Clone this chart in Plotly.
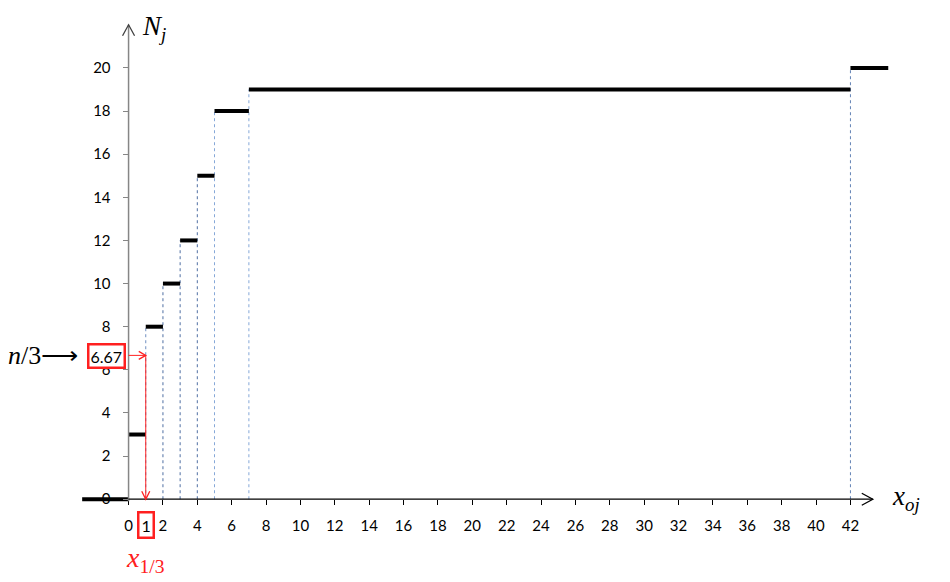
import plotly.graph_objects as go

# ---- data ----
step_x = [0, 1, 2, 3, 4, 5, 7, 42]          # x_oj where N_j jumps
N_j = [3, 8, 10, 12, 15, 18, 19, 20]        # cumulative frequencies
x_left, x_right = -2.7, 44.2                # extent of the outer steps
y_ticks = list(range(0, 21, 2))
x_ticks = list(range(0, 43, 2))
n_third = 6.67
x_13 = 1
dash_colors = ["#6f8fc0", "#4f6fa3", "#4f6fa3", "#4f6fa3", "#86a8d8", "#86a8d8", "#6282b5"]

# ---- layout geometry ----
W, H = 950, 582
OFF = 8  # page body offset
L, R, T, B = 77 - OFF, 48 + OFF, 14 - OFF, 72 + OFF
XR = [-3, 45]
YR = [-0.5, 22.5]
pxx = (W - L - R) / (XR[1] - XR[0])
pxy = (H - T - B) / (YR[1] - YR[0])

def dx(p):
    return p / pxx

def dy(p):
    return p / pxy

fig = go.Figure()

# dashed verticals
for i, (xv, nv) in enumerate(zip(step_x[1:], N_j[1:])):
    fig.add_trace(go.Scatter(x=[xv, xv], y=[0, nv], mode="lines",
                             line=dict(color=dash_colors[i], width=1, dash="3px,3px"),
                             hoverinfo="skip", showlegend=False))

# step segments
starts = [x_left] + step_x
ends = step_x + [x_right]
vals = [0] + N_j
sx, sy = [], []
for a, b, v in zip(starts, ends, vals):
    sx += [a, b, None]
    sy += [v, v, None]
fig.add_trace(go.Scatter(x=sx, y=sy, mode="lines", line=dict(color="black", width=4),
                         hoverinfo="skip", showlegend=False))

shapes = []
# axes lines
shapes.append(dict(type="line", xref="x", yref="y", x0=0, x1=0, y0=-dy(2), y1=22.0,
                   line=dict(color="#868686", width=1.5), layer="above"))
shapes.append(dict(type="line", xref="x", yref="y", x0=0, x1=43.3, y0=0, y1=0,
                   line=dict(color="black", width=1.3), layer="above"))

def vhead(xt, yt, direction, color, size=8, spread=5):
    # open V arrowhead with tip at (xt, yt)
    if direction == "up":
        p = f"M {xt-dx(spread)},{yt-dy(size)} L {xt},{yt} L {xt+dx(spread)},{yt-dy(size)}"
    elif direction == "down":
        p = f"M {xt-dx(spread)},{yt+dy(size)} L {xt},{yt} L {xt+dx(spread)},{yt+dy(size)}"
    else:  # right
        p = f"M {xt-dx(size)},{yt+dy(spread)} L {xt},{yt} L {xt-dx(size)},{yt-dy(spread)}"
    return dict(type="path", xref="x", yref="y", path=p, line=dict(color=color, width=1.3),
                layer="above")

shapes.append(vhead(0, 22.0, "up", "#404040", size=11, spread=6))
shapes.append(vhead(43.3, 0, "right", "black", size=11, spread=6))

# red guide lines
red = "#ff2020"
shapes.append(dict(type="line", xref="x", yref="y", x0=0, x1=x_13, y0=n_third, y1=n_third,
                   line=dict(color=red, width=1), layer="above"))
shapes.append(vhead(x_13, n_third, "right", red, size=7, spread=4))
shapes.append(dict(type="line", xref="x", yref="y", x0=x_13, x1=x_13, y0=n_third, y1=0,
                   line=dict(color=red, width=1), layer="above"))
shapes.append(vhead(x_13, 0, "down", red, size=8, spread=4))

tickfont = dict(family="Lato", size=15, color="black")
boxfont = dict(family="Lato", size=16, color="black")
annotations = [
    dict(x=0, y=22.0, xref="x", yref="y", text="<i>N<sub>j</sub></i>", showarrow=False,
         xanchor="left", yanchor="middle", xshift=11, yshift=-3,
         font=dict(family="Liberation Serif", size=27, color="black")),
    dict(x=43.3, y=0, xref="x", yref="y", text="<i>x<sub>oj</sub></i>", showarrow=False,
         xanchor="left", yanchor="middle", xshift=17, yshift=1,
         font=dict(family="Liberation Serif", size=27, color="black")),
    dict(x=0, y=n_third, xref="x", yref="y", text="6.67", showarrow=False,
         xanchor="right", yanchor="middle", xshift=-3, yshift=-1,
         bordercolor=red, borderwidth=2.5, borderpad=1, bgcolor="white",
         font=boxfont),
    dict(x=0, y=n_third, xref="x", yref="y", text="<i>n</i>/3\u27f6", showarrow=False,
         xanchor="right", yanchor="middle", xshift=-49, yshift=0,
         font=dict(family="Liberation Serif", size=26, color="black")),
    dict(x=x_13, y=0, xref="x", yref="y", text="1", showarrow=False,
         xanchor="center", yanchor="middle", yshift=-26,
         bordercolor=red, borderwidth=2.5, borderpad=2, bgcolor="white",
         font=boxfont),
    dict(x=x_13, y=0, xref="x", yref="y", text="<i>x</i><sub>1/3</sub>", showarrow=False,
         xanchor="center", yanchor="middle", yshift=-60,
         font=dict(family="Liberation Serif", size=28, color=red)),
]

fig.update_layout(
    width=W, height=H, margin=dict(l=L, r=R, t=T, b=B),
    plot_bgcolor="white", paper_bgcolor="white",
    showlegend=False, shapes=shapes, annotations=annotations,
    xaxis=dict(range=XR, tickvals=x_ticks, ticktext=[str(v) for v in x_ticks],
               ticks="outside", ticklen=5, tickcolor="black", tickwidth=1,
               showline=False, showgrid=False, zeroline=False,
               anchor="free", position=(0 - YR[0]) / (YR[1] - YR[0]),
               tickfont=tickfont, ticklabelstandoff=8),
    yaxis=dict(range=YR, tickvals=y_ticks, ticks="outside", ticklen=6,
               tickcolor="#868686", tickwidth=1,
               showline=False, showgrid=False, zeroline=False,
               anchor="free", position=(0 - XR[0]) / (XR[1] - XR[0]),
               tickfont=tickfont, ticklabelstandoff=9),
)

fig.write_html("out.html")
